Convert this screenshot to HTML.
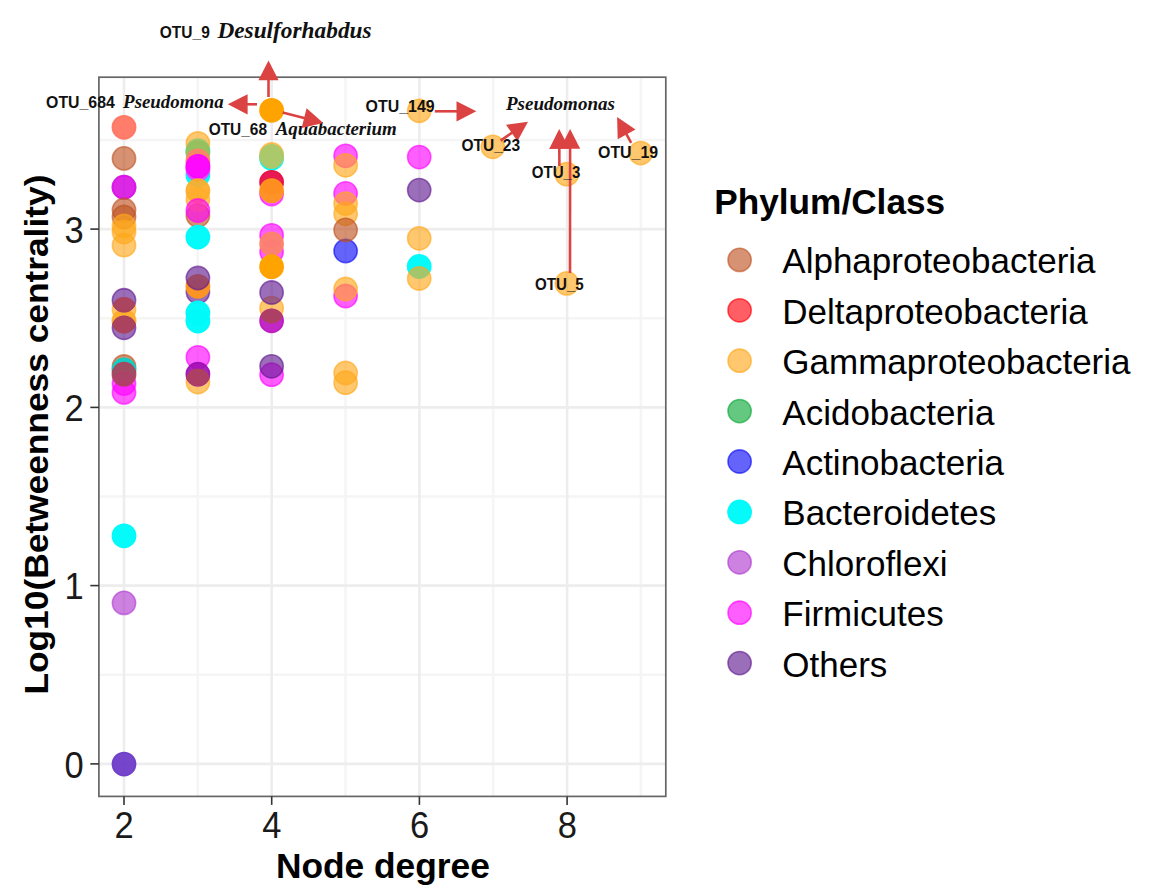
<!DOCTYPE html>
<html><head><meta charset="utf-8"><style>html,body{margin:0;padding:0;background:#fff;}svg{display:block;}</style></head>
<body>
<svg width="1150" height="890" viewBox="0 0 1150 890">
<style>
text{font-family:"Liberation Sans",sans-serif;}
.tk{font-size:34.5px;fill:#1a1a1a;}
.ax{font-size:34.5px;font-weight:bold;fill:#000;}
.lg{font-size:35px;fill:#000;}
.otu{font-size:16.2px;font-weight:bold;fill:#111;}
.gn{font-family:"Liberation Serif",serif;font-weight:bold;font-style:italic;fill:#111;}
</style>
<defs><clipPath id="k13"><circle cx="124.0" cy="300.2" r="12.10"/></clipPath><clipPath id="k14"><circle cx="124.0" cy="327.8" r="12.10"/></clipPath><clipPath id="k44"><circle cx="197.9" cy="374.2" r="12.10"/></clipPath><clipPath id="k59"><circle cx="271.6" cy="320.8" r="12.10"/></clipPath></defs>
<rect width="1150" height="890" fill="#fff"/>
<line x1="98.9" y1="674.8" x2="665.8" y2="674.8" stroke="#F5F5F5" stroke-width="2.6"/><line x1="98.9" y1="496.5" x2="665.8" y2="496.5" stroke="#F5F5F5" stroke-width="2.6"/><line x1="98.9" y1="318.3" x2="665.8" y2="318.3" stroke="#F5F5F5" stroke-width="2.6"/><line x1="98.9" y1="140.0" x2="665.8" y2="140.0" stroke="#F5F5F5" stroke-width="2.6"/><line x1="197.8" y1="77.2" x2="197.8" y2="796.4" stroke="#F5F5F5" stroke-width="2.6"/><line x1="345.5" y1="77.2" x2="345.5" y2="796.4" stroke="#F5F5F5" stroke-width="2.6"/><line x1="493.2" y1="77.2" x2="493.2" y2="796.4" stroke="#F5F5F5" stroke-width="2.6"/><line x1="640.9" y1="77.2" x2="640.9" y2="796.4" stroke="#F5F5F5" stroke-width="2.6"/><line x1="98.9" y1="763.9" x2="665.8" y2="763.9" stroke="#EDEDED" stroke-width="2.6"/><line x1="98.9" y1="585.6" x2="665.8" y2="585.6" stroke="#EDEDED" stroke-width="2.6"/><line x1="98.9" y1="407.4" x2="665.8" y2="407.4" stroke="#EDEDED" stroke-width="2.6"/><line x1="98.9" y1="229.1" x2="665.8" y2="229.1" stroke="#EDEDED" stroke-width="2.6"/><line x1="124.0" y1="77.2" x2="124.0" y2="796.4" stroke="#EDEDED" stroke-width="2.6"/><line x1="271.7" y1="77.2" x2="271.7" y2="796.4" stroke="#EDEDED" stroke-width="2.6"/><line x1="419.4" y1="77.2" x2="419.4" y2="796.4" stroke="#EDEDED" stroke-width="2.6"/><line x1="567.1" y1="77.2" x2="567.1" y2="796.4" stroke="#EDEDED" stroke-width="2.6"/>
<circle cx="124.0" cy="127.3" r="11.6" fill="rgb(255,118,98)" fill-opacity="0.95" stroke="rgb(255,118,98)" stroke-opacity="0.95" stroke-width="1.6"/><circle cx="124.0" cy="158.4" r="11.6" fill="rgb(190,82,34)" fill-opacity="0.63" stroke="rgb(190,82,34)" stroke-opacity="0.63" stroke-width="1.6"/><circle cx="124.0" cy="187.2" r="11.6" fill="rgb(96,25,144)" fill-opacity="0.63" stroke="rgb(96,25,144)" stroke-opacity="0.63" stroke-width="1.6"/><circle cx="124.0" cy="187.2" r="11.6" fill="rgb(255,0,255)" fill-opacity="0.63" stroke="rgb(255,0,255)" stroke-opacity="0.63" stroke-width="1.6"/><circle cx="124.0" cy="210.0" r="11.6" fill="rgb(190,82,34)" fill-opacity="0.63" stroke="rgb(190,82,34)" stroke-opacity="0.63" stroke-width="1.6"/><circle cx="124.0" cy="217.0" r="11.6" fill="rgb(190,82,34)" fill-opacity="0.63" stroke="rgb(190,82,34)" stroke-opacity="0.63" stroke-width="1.6"/><circle cx="124.0" cy="226.0" r="11.6" fill="rgb(255,168,25)" fill-opacity="0.63" stroke="rgb(255,168,25)" stroke-opacity="0.63" stroke-width="1.6"/><circle cx="124.0" cy="232.0" r="11.6" fill="rgb(255,168,25)" fill-opacity="0.63" stroke="rgb(255,168,25)" stroke-opacity="0.63" stroke-width="1.6"/><circle cx="124.0" cy="245.2" r="11.6" fill="rgb(255,168,25)" fill-opacity="0.63" stroke="rgb(255,168,25)" stroke-opacity="0.63" stroke-width="1.6"/><circle cx="124.0" cy="309.5" r="11.6" fill="rgb(255,168,25)" fill-opacity="0.63" stroke="rgb(255,168,25)" stroke-opacity="0.63" stroke-width="1.6"/><circle cx="124.0" cy="321.0" r="11.6" fill="rgb(255,172,40)" fill-opacity="0.93" stroke="rgb(255,172,40)" stroke-opacity="0.93" stroke-width="1.6"/><circle cx="124.0" cy="300.2" r="11.6" fill="rgb(96,25,144)" fill-opacity="0.63" stroke="rgb(96,25,144)" stroke-opacity="0.63" stroke-width="1.6"/><circle cx="124.0" cy="327.8" r="11.6" fill="rgb(96,25,144)" fill-opacity="0.63" stroke="rgb(96,25,144)" stroke-opacity="0.63" stroke-width="1.6"/><circle cx="124.0" cy="309.5" r="11.6" fill="rgb(172,66,92)" fill-opacity="0.92" stroke="rgb(172,66,92)" stroke-opacity="0.92" stroke-width="1.6" clip-path="url(#k13)"/><circle cx="124.0" cy="321.0" r="11.6" fill="rgb(172,66,92)" fill-opacity="0.92" stroke="rgb(172,66,92)" stroke-opacity="0.92" stroke-width="1.6" clip-path="url(#k14)"/><circle cx="124.0" cy="366.5" r="11.6" fill="rgb(190,82,34)" fill-opacity="0.63" stroke="rgb(190,82,34)" stroke-opacity="0.63" stroke-width="1.6"/><circle cx="124.0" cy="370.0" r="11.6" fill="rgb(12,208,198)" fill-opacity="0.95" stroke="rgb(12,208,198)" stroke-opacity="0.95" stroke-width="1.6"/><circle cx="124.0" cy="392.4" r="11.6" fill="rgb(255,0,255)" fill-opacity="0.63" stroke="rgb(255,0,255)" stroke-opacity="0.63" stroke-width="1.6"/><circle cx="124.0" cy="383.6" r="11.6" fill="rgb(255,0,255)" fill-opacity="0.63" stroke="rgb(255,0,255)" stroke-opacity="0.63" stroke-width="1.6"/><circle cx="124.0" cy="374.2" r="11.6" fill="rgb(172,66,92)" fill-opacity="0.92" stroke="rgb(172,66,92)" stroke-opacity="0.92" stroke-width="1.6"/><circle cx="124.0" cy="535.8" r="11.6" fill="rgb(0,250,250)" fill-opacity="0.98" stroke="rgb(0,250,250)" stroke-opacity="0.98" stroke-width="1.6"/><circle cx="124.0" cy="602.9" r="11.6" fill="rgb(176,57,207)" fill-opacity="0.63" stroke="rgb(176,57,207)" stroke-opacity="0.63" stroke-width="1.6"/><circle cx="124.0" cy="764.1" r="11.6" fill="rgb(110,60,200)" fill-opacity="0.95" stroke="rgb(110,60,200)" stroke-opacity="0.95" stroke-width="1.6"/><circle cx="197.9" cy="150.6" r="11.6" fill="rgb(0,250,250)" fill-opacity="0.98" stroke="rgb(0,250,250)" stroke-opacity="0.98" stroke-width="1.6"/><circle cx="197.9" cy="175.0" r="11.6" fill="rgb(0,250,250)" fill-opacity="0.98" stroke="rgb(0,250,250)" stroke-opacity="0.98" stroke-width="1.6"/><circle cx="197.9" cy="143.3" r="11.6" fill="rgb(255,168,25)" fill-opacity="0.63" stroke="rgb(255,168,25)" stroke-opacity="0.63" stroke-width="1.6"/><circle cx="197.9" cy="152.7" r="11.6" fill="rgb(150,192,92)" fill-opacity="0.93" stroke="rgb(150,192,92)" stroke-opacity="0.93" stroke-width="1.6"/><circle cx="197.9" cy="160.8" r="11.6" fill="rgb(252,132,104)" fill-opacity="0.93" stroke="rgb(252,132,104)" stroke-opacity="0.93" stroke-width="1.6"/><circle cx="197.9" cy="169.2" r="11.6" fill="rgb(236,70,255)" fill-opacity="0.9" stroke="rgb(236,70,255)" stroke-opacity="0.9" stroke-width="1.6"/><circle cx="197.9" cy="166.3" r="11.6" fill="rgb(255,0,255)" fill-opacity="0.63" stroke="rgb(255,0,255)" stroke-opacity="0.63" stroke-width="1.6"/><circle cx="197.9" cy="166.3" r="11.6" fill="rgb(255,0,255)" fill-opacity="0.63" stroke="rgb(255,0,255)" stroke-opacity="0.63" stroke-width="1.6"/><circle cx="197.9" cy="215.5" r="11.6" fill="rgb(190,82,34)" fill-opacity="0.63" stroke="rgb(190,82,34)" stroke-opacity="0.63" stroke-width="1.6"/><circle cx="197.9" cy="199.5" r="11.6" fill="rgb(255,168,25)" fill-opacity="0.63" stroke="rgb(255,168,25)" stroke-opacity="0.63" stroke-width="1.6"/><circle cx="197.9" cy="190.7" r="11.6" fill="rgb(255,172,40)" fill-opacity="0.93" stroke="rgb(255,172,40)" stroke-opacity="0.93" stroke-width="1.6"/><circle cx="197.9" cy="210.5" r="11.6" fill="rgb(255,0,255)" fill-opacity="0.63" stroke="rgb(255,0,255)" stroke-opacity="0.63" stroke-width="1.6"/><circle cx="197.9" cy="237.1" r="11.6" fill="rgb(0,250,250)" fill-opacity="0.98" stroke="rgb(0,250,250)" stroke-opacity="0.98" stroke-width="1.6"/><circle cx="197.9" cy="292.0" r="11.6" fill="rgb(96,25,144)" fill-opacity="0.63" stroke="rgb(96,25,144)" stroke-opacity="0.63" stroke-width="1.6"/><circle cx="197.9" cy="286.3" r="11.6" fill="rgb(255,150,28)" fill-opacity="0.95" stroke="rgb(255,150,28)" stroke-opacity="0.95" stroke-width="1.6"/><circle cx="197.9" cy="278.0" r="11.6" fill="rgb(96,25,144)" fill-opacity="0.63" stroke="rgb(96,25,144)" stroke-opacity="0.63" stroke-width="1.6"/><circle cx="197.9" cy="313.0" r="11.6" fill="rgb(0,250,250)" fill-opacity="0.98" stroke="rgb(0,250,250)" stroke-opacity="0.98" stroke-width="1.6"/><circle cx="197.9" cy="321.0" r="11.6" fill="rgb(0,250,250)" fill-opacity="0.98" stroke="rgb(0,250,250)" stroke-opacity="0.98" stroke-width="1.6"/><circle cx="197.9" cy="357.3" r="11.6" fill="rgb(255,0,255)" fill-opacity="0.63" stroke="rgb(255,0,255)" stroke-opacity="0.63" stroke-width="1.6"/><circle cx="197.9" cy="382.1" r="11.6" fill="rgb(255,168,25)" fill-opacity="0.63" stroke="rgb(255,168,25)" stroke-opacity="0.63" stroke-width="1.6"/><circle cx="197.9" cy="374.2" r="11.6" fill="rgb(158,12,178)" fill-opacity="0.9" stroke="rgb(158,12,178)" stroke-opacity="0.9" stroke-width="1.6"/><circle cx="197.9" cy="381.0" r="11.6" fill="rgb(172,66,92)" fill-opacity="0.92" stroke="rgb(172,66,92)" stroke-opacity="0.92" stroke-width="1.6" clip-path="url(#k44)"/><circle cx="271.6" cy="110.3" r="11.6" fill="rgb(255,163,0)" fill-opacity="1.0" stroke="rgb(255,163,0)" stroke-opacity="1.0" stroke-width="1.6"/><circle cx="271.6" cy="158.3" r="11.6" fill="rgb(0,250,250)" fill-opacity="0.98" stroke="rgb(0,250,250)" stroke-opacity="0.98" stroke-width="1.6"/><circle cx="271.6" cy="154.5" r="11.6" fill="rgb(255,168,25)" fill-opacity="0.63" stroke="rgb(255,168,25)" stroke-opacity="0.63" stroke-width="1.6"/><circle cx="271.6" cy="156.5" r="11.6" fill="rgb(172,200,108)" fill-opacity="0.95" stroke="rgb(172,200,108)" stroke-opacity="0.95" stroke-width="1.6"/><circle cx="271.6" cy="194.0" r="11.6" fill="rgb(255,0,255)" fill-opacity="0.63" stroke="rgb(255,0,255)" stroke-opacity="0.63" stroke-width="1.6"/><circle cx="271.6" cy="182.3" r="11.6" fill="rgb(232,14,72)" fill-opacity="0.95" stroke="rgb(232,14,72)" stroke-opacity="0.95" stroke-width="1.6"/><circle cx="271.6" cy="190.7" r="11.6" fill="rgb(255,150,28)" fill-opacity="0.95" stroke="rgb(255,150,28)" stroke-opacity="0.95" stroke-width="1.6"/><circle cx="271.6" cy="235.3" r="11.6" fill="rgb(255,0,255)" fill-opacity="0.63" stroke="rgb(255,0,255)" stroke-opacity="0.63" stroke-width="1.6"/><circle cx="271.6" cy="251.8" r="11.6" fill="rgb(255,0,255)" fill-opacity="0.63" stroke="rgb(255,0,255)" stroke-opacity="0.63" stroke-width="1.6"/><circle cx="271.6" cy="243.8" r="11.6" fill="rgb(252,132,104)" fill-opacity="0.93" stroke="rgb(252,132,104)" stroke-opacity="0.93" stroke-width="1.6"/><circle cx="271.6" cy="266.7" r="11.6" fill="rgb(255,163,0)" fill-opacity="1.0" stroke="rgb(255,163,0)" stroke-opacity="1.0" stroke-width="1.6"/><circle cx="271.6" cy="308.2" r="11.6" fill="rgb(255,168,25)" fill-opacity="0.63" stroke="rgb(255,168,25)" stroke-opacity="0.63" stroke-width="1.6"/><circle cx="271.6" cy="292.5" r="11.6" fill="rgb(96,25,144)" fill-opacity="0.63" stroke="rgb(96,25,144)" stroke-opacity="0.63" stroke-width="1.6"/><circle cx="271.6" cy="320.8" r="11.6" fill="rgb(188,22,192)" fill-opacity="0.92" stroke="rgb(188,22,192)" stroke-opacity="0.92" stroke-width="1.6"/><circle cx="271.6" cy="311.0" r="11.6" fill="rgb(172,66,92)" fill-opacity="0.92" stroke="rgb(172,66,92)" stroke-opacity="0.92" stroke-width="1.6" clip-path="url(#k59)"/><circle cx="271.6" cy="374.7" r="11.6" fill="rgb(255,0,255)" fill-opacity="0.63" stroke="rgb(255,0,255)" stroke-opacity="0.63" stroke-width="1.6"/><circle cx="271.6" cy="366.3" r="11.6" fill="rgb(96,25,144)" fill-opacity="0.63" stroke="rgb(96,25,144)" stroke-opacity="0.63" stroke-width="1.6"/><circle cx="345.6" cy="155.8" r="11.6" fill="rgb(255,0,255)" fill-opacity="0.63" stroke="rgb(255,0,255)" stroke-opacity="0.63" stroke-width="1.6"/><circle cx="345.6" cy="165.3" r="11.6" fill="rgb(255,168,25)" fill-opacity="0.63" stroke="rgb(255,168,25)" stroke-opacity="0.63" stroke-width="1.6"/><circle cx="345.6" cy="193.4" r="11.6" fill="rgb(255,0,255)" fill-opacity="0.63" stroke="rgb(255,0,255)" stroke-opacity="0.63" stroke-width="1.6"/><circle cx="345.6" cy="203.6" r="11.6" fill="rgb(255,168,25)" fill-opacity="0.63" stroke="rgb(255,168,25)" stroke-opacity="0.63" stroke-width="1.6"/><circle cx="345.6" cy="213.8" r="11.6" fill="rgb(255,168,25)" fill-opacity="0.63" stroke="rgb(255,168,25)" stroke-opacity="0.63" stroke-width="1.6"/><circle cx="345.6" cy="251.0" r="11.6" fill="rgb(9,9,247)" fill-opacity="0.63" stroke="rgb(9,9,247)" stroke-opacity="0.63" stroke-width="1.6"/><circle cx="345.6" cy="229.9" r="11.6" fill="rgb(190,82,34)" fill-opacity="0.63" stroke="rgb(190,82,34)" stroke-opacity="0.63" stroke-width="1.6"/><circle cx="345.6" cy="296.0" r="11.6" fill="rgb(255,0,255)" fill-opacity="0.63" stroke="rgb(255,0,255)" stroke-opacity="0.63" stroke-width="1.6"/><circle cx="345.6" cy="289.0" r="11.6" fill="rgb(255,168,25)" fill-opacity="0.63" stroke="rgb(255,168,25)" stroke-opacity="0.63" stroke-width="1.6"/><circle cx="345.6" cy="373.0" r="11.6" fill="rgb(255,168,25)" fill-opacity="0.63" stroke="rgb(255,168,25)" stroke-opacity="0.63" stroke-width="1.6"/><circle cx="345.6" cy="382.7" r="11.6" fill="rgb(255,168,25)" fill-opacity="0.63" stroke="rgb(255,168,25)" stroke-opacity="0.63" stroke-width="1.6"/><circle cx="419.2" cy="110.8" r="11.6" fill="rgb(255,168,25)" fill-opacity="0.63" stroke="rgb(255,168,25)" stroke-opacity="0.63" stroke-width="1.6"/><circle cx="419.2" cy="157.1" r="11.6" fill="rgb(255,0,255)" fill-opacity="0.63" stroke="rgb(255,0,255)" stroke-opacity="0.63" stroke-width="1.6"/><circle cx="419.2" cy="190.1" r="11.6" fill="rgb(96,25,144)" fill-opacity="0.63" stroke="rgb(96,25,144)" stroke-opacity="0.63" stroke-width="1.6"/><circle cx="419.2" cy="238.3" r="11.6" fill="rgb(255,168,25)" fill-opacity="0.63" stroke="rgb(255,168,25)" stroke-opacity="0.63" stroke-width="1.6"/><circle cx="419.2" cy="266.5" r="11.6" fill="rgb(0,250,250)" fill-opacity="0.98" stroke="rgb(0,250,250)" stroke-opacity="0.98" stroke-width="1.6"/><circle cx="419.2" cy="278.5" r="11.6" fill="rgb(255,168,25)" fill-opacity="0.63" stroke="rgb(255,168,25)" stroke-opacity="0.63" stroke-width="1.6"/><circle cx="492.8" cy="146.8" r="11.6" fill="rgb(255,168,25)" fill-opacity="0.63" stroke="rgb(255,168,25)" stroke-opacity="0.63" stroke-width="1.6"/><circle cx="566.8" cy="174.2" r="11.6" fill="rgb(255,168,25)" fill-opacity="0.63" stroke="rgb(255,168,25)" stroke-opacity="0.63" stroke-width="1.6"/><circle cx="566.8" cy="283.4" r="11.6" fill="rgb(255,168,25)" fill-opacity="0.63" stroke="rgb(255,168,25)" stroke-opacity="0.63" stroke-width="1.6"/><circle cx="640.7" cy="153.1" r="11.6" fill="rgb(255,168,25)" fill-opacity="0.63" stroke="rgb(255,168,25)" stroke-opacity="0.63" stroke-width="1.6"/>
<rect x="98.9" y="77.2" width="566.9" height="719.2" fill="none" stroke="#666" stroke-width="1.7"/>
<line x1="90.3" y1="763.9" x2="98.9" y2="763.9" stroke="#333" stroke-width="1.6"/><text transform="translate(83.6,777.5) scale(1,1.06)" text-anchor="end" class="tk">0</text><line x1="90.3" y1="585.6" x2="98.9" y2="585.6" stroke="#333" stroke-width="1.6"/><text transform="translate(83.6,599.2) scale(1,1.06)" text-anchor="end" class="tk">1</text><line x1="90.3" y1="407.4" x2="98.9" y2="407.4" stroke="#333" stroke-width="1.6"/><text transform="translate(83.6,421.0) scale(1,1.06)" text-anchor="end" class="tk">2</text><line x1="90.3" y1="229.1" x2="98.9" y2="229.1" stroke="#333" stroke-width="1.6"/><text transform="translate(83.6,242.7) scale(1,1.06)" text-anchor="end" class="tk">3</text><line x1="124.0" y1="796.4" x2="124.0" y2="804.9" stroke="#333" stroke-width="1.6"/><text transform="translate(124.2,837.6) scale(1,1.06)" text-anchor="middle" class="tk">2</text><line x1="271.7" y1="796.4" x2="271.7" y2="804.9" stroke="#333" stroke-width="1.6"/><text transform="translate(271.9,837.6) scale(1,1.06)" text-anchor="middle" class="tk">4</text><line x1="419.4" y1="796.4" x2="419.4" y2="804.9" stroke="#333" stroke-width="1.6"/><text transform="translate(419.6,837.6) scale(1,1.06)" text-anchor="middle" class="tk">6</text><line x1="567.1" y1="796.4" x2="567.1" y2="804.9" stroke="#333" stroke-width="1.6"/><text transform="translate(567.3,837.6) scale(1,1.06)" text-anchor="middle" class="tk">8</text>
<text x="208.7" y="134.6" class="otu" textLength="58.3" lengthAdjust="spacingAndGlyphs">OTU_68</text><text x="275.7" y="135.0" class="gn" style="font-size:18.4px" textLength="121.1" lengthAdjust="spacingAndGlyphs">Aquabacterium</text>
<line x1="268.5" y1="97.0" x2="268.5" y2="79.2" stroke="#DB4343" stroke-width="2.6"/><polygon points="268.5,60.4 278.6,80.2 258.4,80.2" fill="#DB4343"/><line x1="257.0" y1="104.3" x2="246.6" y2="104.3" stroke="#DB4343" stroke-width="2.6"/><polygon points="227.8,104.3 247.6,94.2 247.6,114.4" fill="#DB4343"/><line x1="282.6" y1="112.6" x2="305.1" y2="118.3" stroke="#DB4343" stroke-width="2.6"/><polygon points="323.3,123.0 301.6,127.9 306.6,108.3" fill="#DB4343"/><line x1="434.8" y1="111.3" x2="457.5" y2="111.3" stroke="#DB4343" stroke-width="2.6"/><polygon points="476.3,111.3 456.5,121.4 456.5,101.2" fill="#DB4343"/><line x1="500.6" y1="140.6" x2="512.5" y2="132.4" stroke="#DB4343" stroke-width="2.6"/><polygon points="528.0,121.8 517.4,141.3 506.0,124.7" fill="#DB4343"/><line x1="559.4" y1="166.0" x2="559.3" y2="147.8" stroke="#DB4343" stroke-width="2.6"/><polygon points="559.2,129.0 569.4,148.7 549.2,148.9" fill="#DB4343"/><line x1="570.0" y1="273.0" x2="570.1" y2="147.8" stroke="#DB4343" stroke-width="2.6"/><polygon points="570.1,129.0 580.2,148.8 560.0,148.8" fill="#DB4343"/><line x1="631.2" y1="142.9" x2="626.1" y2="133.6" stroke="#DB4343" stroke-width="2.6"/><polygon points="617.1,117.1 635.5,129.6 617.7,139.3" fill="#DB4343"/>
<text x="159.8" y="37.8" class="otu" style="font-size:15.8px" textLength="50.0" lengthAdjust="spacingAndGlyphs">OTU_9</text><text x="217.4" y="37.9" class="gn" style="font-size:23.6px" textLength="154.2" lengthAdjust="spacingAndGlyphs">Desulforhabdus</text><text x="46.1" y="107.7" class="otu" textLength="68.7" lengthAdjust="spacingAndGlyphs">OTU_684</text><text x="123.1" y="107.9" class="gn" style="font-size:18.2px" textLength="100.7" lengthAdjust="spacingAndGlyphs">Pseudomona</text><text x="365.6" y="111.6" class="otu" textLength="69.0" lengthAdjust="spacingAndGlyphs">OTU_149</text><text x="506.0" y="109.6" class="gn" style="font-size:18.6px" textLength="108.9" lengthAdjust="spacingAndGlyphs">Pseudomonas</text><text x="461.4" y="151.4" class="otu" textLength="58.7" lengthAdjust="spacingAndGlyphs">OTU_23</text><text x="531.8" y="178.3" class="otu" textLength="48.6" lengthAdjust="spacingAndGlyphs">OTU_3</text><text x="598.0" y="157.8" class="otu" textLength="60.2" lengthAdjust="spacingAndGlyphs">OTU_19</text><text x="535.0" y="290.0" class="otu" textLength="48.7" lengthAdjust="spacingAndGlyphs">OTU_5</text>
<text x="275.9" y="878" class="ax" textLength="214" lengthAdjust="spacingAndGlyphs">Node degree</text>
<text transform="translate(48.3,694.6) rotate(-90)" x="0" y="0" class="ax" style="font-size:32.5px" textLength="520" lengthAdjust="spacingAndGlyphs">Log10(Betweenness centrality)</text>
<text x="714.2" y="213.7" class="ax" textLength="231" lengthAdjust="spacingAndGlyphs">Phylum/Class</text>
<circle cx="739.6" cy="259.9" r="11.6" fill="rgb(190,82,34)" fill-opacity="0.63" stroke="rgb(190,82,34)" stroke-opacity="0.63" stroke-width="1.6"/><text x="782.3" y="273.4" class="lg">Alphaproteobacteria</text><circle cx="739.6" cy="310.3" r="11.6" fill="rgb(255,0,9)" fill-opacity="0.63" stroke="rgb(255,0,9)" stroke-opacity="0.63" stroke-width="1.6"/><text x="782.3" y="323.8" class="lg">Deltaproteobacteria</text><circle cx="739.6" cy="360.7" r="11.6" fill="rgb(255,168,25)" fill-opacity="0.63" stroke="rgb(255,168,25)" stroke-opacity="0.63" stroke-width="1.6"/><text x="782.3" y="374.2" class="lg">Gammaproteobacteria</text><circle cx="739.6" cy="411.1" r="11.6" fill="rgb(9,168,56)" fill-opacity="0.63" stroke="rgb(9,168,56)" stroke-opacity="0.63" stroke-width="1.6"/><text x="782.3" y="424.6" class="lg">Acidobacteria</text><circle cx="739.6" cy="461.5" r="11.6" fill="rgb(9,9,247)" fill-opacity="0.63" stroke="rgb(9,9,247)" stroke-opacity="0.63" stroke-width="1.6"/><text x="782.3" y="475.0" class="lg">Actinobacteria</text><circle cx="739.6" cy="511.9" r="11.6" fill="rgb(0,250,250)" fill-opacity="0.98" stroke="rgb(0,250,250)" stroke-opacity="0.98" stroke-width="1.6"/><text x="782.3" y="525.4" class="lg">Bacteroidetes</text><circle cx="739.6" cy="562.3" r="11.6" fill="rgb(176,57,207)" fill-opacity="0.63" stroke="rgb(176,57,207)" stroke-opacity="0.63" stroke-width="1.6"/><text x="782.3" y="575.8" class="lg">Chloroflexi</text><circle cx="739.6" cy="612.7" r="11.6" fill="rgb(255,0,255)" fill-opacity="0.63" stroke="rgb(255,0,255)" stroke-opacity="0.63" stroke-width="1.6"/><text x="782.3" y="626.2" class="lg">Firmicutes</text><circle cx="739.6" cy="663.1" r="11.6" fill="rgb(96,25,144)" fill-opacity="0.63" stroke="rgb(96,25,144)" stroke-opacity="0.63" stroke-width="1.6"/><text x="782.3" y="676.6" class="lg">Others</text>
</svg>
</body></html>
